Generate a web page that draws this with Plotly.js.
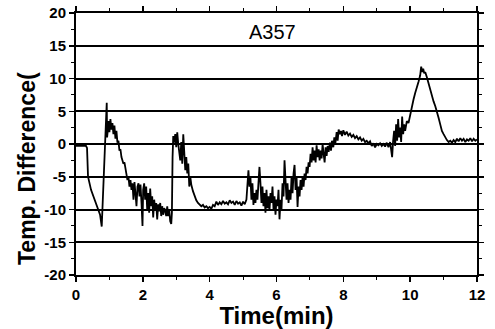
<!DOCTYPE html>
<html>
<head>
<meta charset="utf-8">
<script src="https://cdn.plot.ly/plotly-3.0.1.min.js"></script>
<style>html,body{margin:0;padding:0;background:#fff;}#chart{width:495px;height:329px;}</style>
</head>
<body>
<div id="chart"></div>
<script>
const timeMin = [0,0.1,0.2,0.3,0.33,0.36,0.45,0.55,0.66,0.72,0.77,0.8,0.85,0.9,0.92,0.93,
0.95,0.98,1.0,1.03,1.06,1.09,1.12,1.15,1.18,1.21,1.24,1.27,1.3,1.33,1.36,1.39,1.42,1.45,1.48,1.51,1.54,1.57,1.6,1.63,1.66,1.69,1.72,1.75,1.78,1.81,1.84,1.87,1.9,1.93,1.96,1.99,
2.01,2.04,2.07,2.1,2.13,2.16,2.19,2.22,2.25,2.28,2.31,2.34,2.37,2.4,2.43,2.46,2.49,2.52,2.55,2.58,2.61,2.64,2.67,2.7,2.73,2.76,2.79,2.82,2.85,2.87,2.89,2.91,2.94,2.97,
3.0,3.03,3.06,3.09,3.12,3.15,3.18,3.21,3.24,3.27,3.3,3.33,3.36,3.39,3.42,3.45,3.5,3.55,3.6,3.65,3.7,3.75,3.8,3.85,3.9,3.95,
4.0,4.05,4.1,4.15,4.2,4.25,4.3,4.35,4.4,4.45,4.5,4.55,4.6,4.65,4.7,4.75,4.8,4.85,4.9,4.95,
5.0,5.05,5.1,5.13,5.16,5.19,5.22,5.25,5.28,5.31,5.34,5.37,5.4,5.43,5.46,5.49,5.52,5.55,5.58,5.61,5.64,5.67,5.7,5.73,5.76,5.79,5.82,5.85,5.88,5.91,5.94,5.97,
6.0,6.03,6.06,6.09,6.12,6.15,6.18,6.21,6.24,6.27,6.3,6.33,6.36,6.39,6.42,6.45,6.48,6.51,6.54,6.57,6.6,6.63,6.66,6.69,6.72,6.75,6.78,6.81,6.84,6.87,6.9,6.93,6.96,6.99,
7.02,7.05,7.08,7.11,7.14,7.17,7.2,7.23,7.26,7.29,7.32,7.35,7.38,7.41,7.44,7.47,7.5,7.53,7.56,7.6,7.63,7.66,7.7,7.73,7.76,7.8,7.83,7.86,7.9,7.93,7.96,
8.0,8.05,8.1,8.15,8.2,8.25,8.3,8.35,8.4,8.45,8.5,8.55,8.6,8.65,8.7,8.75,8.8,8.85,8.9,8.95,
9.0,9.05,9.1,9.15,9.2,9.25,9.3,9.35,9.4,9.43,9.46,9.49,9.52,9.55,9.58,9.61,9.64,9.67,9.7,9.73,9.76,9.79,9.82,9.85,9.9,9.95,
10.0,10.05,10.1,10.15,10.2,10.25,10.3,10.33,10.36,10.39,10.42,10.45,10.5,10.55,10.6,10.65,10.7,10.75,10.8,10.85,10.9,10.95,
11.0,11.05,11.1,11.15,11.2,11.25,11.3,11.35,11.4,11.45,11.5,11.55,11.6,11.65,11.7,11.75,11.8,11.85,11.9,11.95,12];

const tempDiff = [-0.3,-0.3,-0.4,-0.3,-0.6,-5,-7,-8.5,-10,-10.8,-12.6,-9,-2,4,6.3,1,
2.5,3.5,1.8,3.8,2.2,3.2,1.5,2.8,0.8,2,0.2,0.5,-1,-0.8,-2,-2.5,-3,-2.8,-4,-4.3,-5.5,-5,-6.5,-5.5,-7,-6,-8.5,-5.8,-7.2,-9.5,-6.5,-6,-8,-6.2,-9,-12.5,
-7,-6,-8.5,-6.5,-10,-7.5,-10.5,-6.8,-9.5,-8,-11.2,-8.5,-10,-9,-11.5,-9.2,-10.3,-9,-11,-9.5,-10.8,-9.8,-10.2,-11,-9.5,-11,-10,-11.8,-12.2,-10.5,-2,1.2,0.2,1.5,
-0.5,1.8,0,-1,-2.5,0.3,-3,1.5,-1,-4,-2,-4.5,-3,-6.5,-5,-6.2,-7.2,-8,-8.6,-9,-9.2,-9.5,-9.3,-9.7,-9.5,-9.8,
-9.6,-9.9,-9.3,-9.5,-8.8,-9.3,-8.9,-9.2,-8.7,-9.1,-8.9,-9.2,-8.6,-9.0,-8.8,-9.3,-8.7,-9.1,-8.9,-9.4,
-8.8,-9.2,-8.5,-5.5,-4,-6.5,-5,-8.5,-6,-9.3,-7.5,-9,-7,-8.5,-5.5,-3.5,-6,-9,-6.5,-9.5,-7.5,-10.5,-7,-9.8,-8,-10.2,-7.5,-9,-6.5,-10,-8,-10.8,
-8.5,-9.5,-7,-11.5,-8.5,-10,-6,-8,-2.5,-6,-8.5,-6,-9,-7,-8.5,-5,-7.5,-4.5,-3.2,-7,-5,-9.6,-6.5,-8,-5.5,-7,-5,-6.5,-4.5,-5.5,-3.5,-4.5,-2.8,-3.5,
-1.5,-2.8,-0.5,-2.5,-1,-2.8,-0.2,-2,-0.8,-2.5,-1,-2.2,0,-1.5,-2.8,-0.5,-1.8,-0.3,-1.2,0.2,-1,0.5,-0.5,1,0,1.8,0.5,2.2,1.5,2.0,1.2,
2.1,1.4,1.9,1.3,1.6,1.1,1.4,0.9,1.2,0.7,1.0,0.5,0.8,0.3,0.5,0.1,0.4,-0.3,0.1,-0.5,
0,-0.2,0.1,-0.3,0,-0.4,0.2,-0.5,0.3,-1,-2,0.5,2,-0.3,3,0.5,3.8,1,2.5,0.3,4.2,1.5,3,2,3.5,3.2,
4.5,5.5,6.8,7.8,8.5,9.5,10.5,11.8,11,11.5,10.8,11,10.2,9.2,8.2,7.2,6.5,5.8,5,4,3,2,
1.5,1,0.6,0.3,0.5,0.2,0.6,0.3,0.8,0.4,0.9,0.5,0.8,0.3,0.7,0.5,0.9,0.4,0.8,0.5,0.7];

const xTicks = [0,2,4,6,8,10,12];
const yTicks = [-20,-15,-10,-5,0,5,10,15,20];
const chartLabel = "A357";
const xTitle = "Time(min)";
const yTitle = "Temp. Difference(";

const fontFam = "Liberation Sans, Arial, sans-serif";

Plotly.newPlot("chart", [{
  x: timeMin, y: tempDiff, type: "scatter", mode: "lines",
  line: {color: "#000", width: 1.8}, hoverinfo: "skip"
}], {
  width: 495, height: 329,
  margin: {l: 76, r: 18, t: 13, b: 54},
  paper_bgcolor: "#fff", plot_bgcolor: "#fff",
  showlegend: false,
  font: {family: fontFam, color: "#000"},
  xaxis: {
    range: [0, 12], tickvals: xTicks, ticktext: xTicks.map(String),
    showgrid: false, zeroline: false,
    showline: true, linecolor: "#000", linewidth: 2, mirror: "ticks",
    ticks: "outside", ticklen: 5, tickwidth: 1.5, tickcolor: "#000",
    minor: {dtick: 1, ticks: "outside", ticklen: 3, tickcolor: "#000", tickwidth: 1},
    tickfont: {family: fontFam, size: 15, color: "#000", weight: "bold"},
    title: {text: xTitle, font: {family: fontFam, size: 24, color: "#000", weight: "bold"}, standoff: 5}
  },
  yaxis: {
    range: [-20, 20], tickvals: yTicks, ticktext: yTicks.map(String),
    showgrid: true, gridcolor: "#000", gridwidth: 2, zeroline: false,
    showline: true, linecolor: "#000", linewidth: 2, mirror: "ticks",
    ticks: "outside", ticklen: 5, tickwidth: 1.5, tickcolor: "#000",
    minor: {dtick: 2.5, ticks: "outside", ticklen: 3, tickcolor: "#000", tickwidth: 1},
    tickfont: {family: fontFam, size: 15, color: "#000", weight: "bold"}
  },
  annotations: [
    {text: chartLabel, x: 5.88, y: 17.1, xref: "x", yref: "y", showarrow: false,
     font: {family: fontFam, size: 20, color: "#000"}},
    {text: yTitle, x: -0.122, y: 0.405, xref: "paper", yref: "paper", showarrow: false,
     xanchor: "center", yanchor: "middle",
     textangle: -90, font: {family: fontFam, size: 23, color: "#000", weight: "bold"}}
  ]
}, {displayModeBar: false, staticPlot: true});
</script>
</body>
</html>
